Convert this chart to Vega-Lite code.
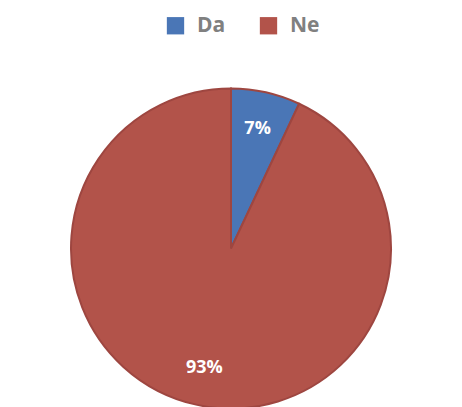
{
  "$schema": "https://vega.github.io/schema/vega-lite/v6.json",
  "autosize": "none",
  "width": 462,
  "height": 317,
  "padding": {"left": 0, "top": 90, "right": 0, "bottom": 0},
  "background": "white",
  "view": {"stroke": null},
  "data": {"values": [
    {"answer": "Da", "share": 7, "label": "7%"},
    {"answer": "Ne", "share": 93, "label": "93%"}
  ]},
  "encoding": {
    "theta": {"field": "share", "type": "quantitative", "stack": true},
    "color": {
      "field": "answer", "type": "nominal",
      "scale": {"domain": ["Da", "Ne"], "range": ["#4a76b6", "#b2534a"]},
      "legend": {
        "title": null, "orient": "none", "direction": "horizontal",
        "legendX": 165, "legendY": -75,
        "symbolType": "square", "symbolSize": 300, "symbolStrokeWidth": 0,
        "labelFontSize": 21, "labelFontWeight": "bold", "labelColor": "#808080", "labelFont": "Open Sans",
        "labelOffset": 11, "columnPadding": 32
      }
    }
  },
  "layer": [
    {"mark": {"type": "arc", "outerRadius": 160, "stroke": "#9e4640", "strokeWidth": 2}},
    {
      "mark": {"type": "text", "radius": 122, "fontSize": 18, "fontWeight": "bold", "font": "Open Sans", "fill": "white"},
      "encoding": {"text": {"field": "label"}, "color": {"value": "white"}}
    }
  ]
}
